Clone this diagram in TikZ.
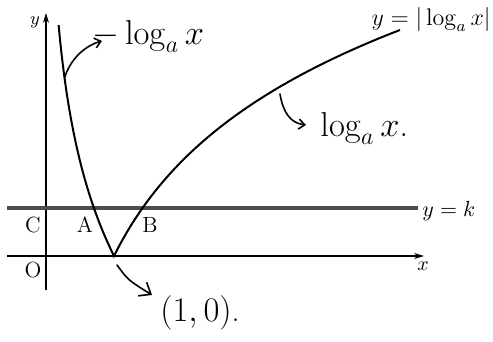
\documentclass[tikz,border=0pt]{standalone}
\usetikzlibrary{arrows.meta}
\begin{document}
\begin{tikzpicture}[x=0.5pt,y=-0.5pt,
  axis/.style={line width=0.6pt},
  curve/.style={line width=1pt},
  kline/.style={line width=1.8pt, black!70},
  lbl/.style={font=\fontsize{11}{13}\selectfont, inner sep=0pt},
  hand/.style={font=\fontsize{17}{19}\selectfont, inner sep=0pt},
  note/.style={line width=0.8pt, line cap=round, line join=round},
  tip/.style={-{Straight Barb[length=3pt,width=5pt]}}
]
\useasboundingbox (0,0) rectangle (493,342);
% axes and the line y=k
\coordinate (xs) at (7,256);  \coordinate (xe) at (424,256);
\coordinate (ys) at (46,290); \coordinate (ye) at (46,13);
\coordinate (ks) at (7,208);  \coordinate (ke) at (418,208);
\draw[axis,-{Stealth[length=5pt,width=3pt]}] (xs) -- (xe);
\draw[axis,-{Stealth[length=5pt,width=3pt]}] (ys) -- (ye);
\draw[kline] (ks) -- (ke);
% y = |log_a x|
\draw[curve] plot[domain=-1.686:0, samples=80] ({46+68*exp(\x)},{256+137*\x})
  -- plot[domain=0:1.65, samples=100] ({46+68*exp(\x)},{256-137*\x});
% labels
\node[lbl] (C) at (33,225) {C};
\node[lbl] (A) at (85,225) {A};
\node[lbl] (B) at (150,225) {B};
\node[lbl] (O) at (33,270) {O};
\node[font=\fontsize{9}{10}\selectfont, inner sep=0pt] (ylab) at (35,22) {$y$};
\node[font=\fontsize{10}{12}\selectfont, inner sep=0pt] (xlab) at (423,266) {$x$};
\node[font=\fontsize{10.5}{12}\selectfont, inner sep=0pt, anchor=west] (klab) at (422,211) {$y=k$};
\node[font=\fontsize{11.5}{13}\selectfont, inner sep=0pt, anchor=east] (flab) at (491,20) {$y=|\log_a x|$};
% handwritten notes
\node[hand, anchor=base west] (h1) at (92,45) {$-\log_a x$};
\node[hand, anchor=base west] (h2) at (320,137) {$\log_a x$.};
\node[font=\fontsize{16}{18}\selectfont, inner sep=0pt, anchor=base west] (h3) at (160,321) {$(1,0)$.};
\coordinate (P1) at (64.5,78);
\coordinate (E1) at (102,41);
\coordinate (P2) at (280,94);
\coordinate (E2) at (306,125);
\coordinate (V3) at (117,265);
\coordinate (E3) at (152,295);
\draw[note,tip] (P1) .. controls (70,60) and (84,46) .. (E1);
\draw[note,tip] (P2) .. controls (283,112) and (290,123) .. (E2);
\draw[note,-{Straight Barb[length=5pt,width=8pt]}] (V3) .. controls (128,280) .. (E3);
\end{tikzpicture}
\end{document}
